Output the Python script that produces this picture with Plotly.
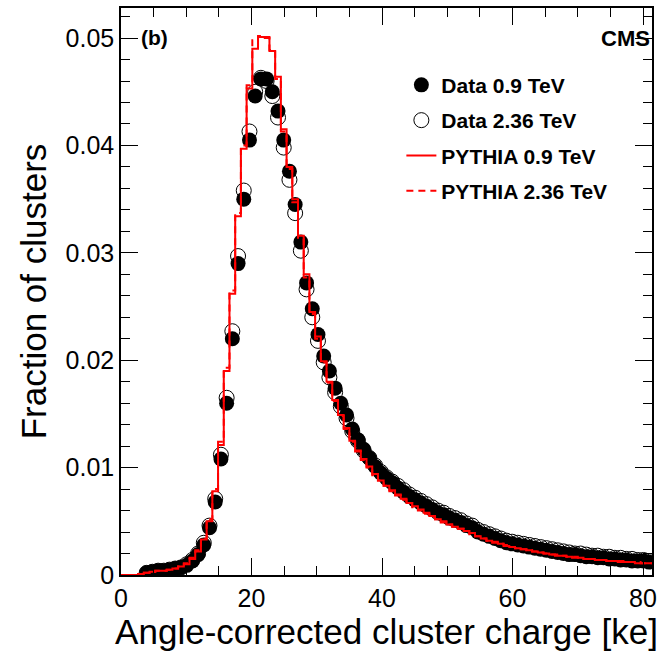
import numpy as np
import plotly.graph_objects as go

# ---- binning (bin width in ke) ----
BIN_WIDTH = 0.875
N_BINS = 93
DATA_FIRST_BIN = 4

# ---- Data 0.9 TeV (fraction of clusters per bin, bins 4..92) ----
data_09 = [
    0.0002, 0.0003, 0.0004, 0.0004, 0.0005, 0.0006, 0.0007, 0.0009, 0.0013, 0.0019,
    0.0028, 0.0044, 0.0068, 0.0108, 0.0160, 0.0220, 0.0290, 0.0350, 0.0405, 0.0446,
    0.0462, 0.0462, 0.0450, 0.0432, 0.0405, 0.0376, 0.0345, 0.0310, 0.0272, 0.0248,
    0.0224, 0.0204, 0.0190, 0.0174, 0.0160, 0.0149, 0.0136, 0.0126, 0.0117, 0.0109,
    0.0101, 0.0095, 0.0090, 0.0086, 0.0081, 0.0077, 0.0073, 0.0070, 0.0067, 0.0064,
    0.0061, 0.0058, 0.0056, 0.0053, 0.0051, 0.0049, 0.0046, 0.0044, 0.0040, 0.0038,
    0.0036, 0.0034, 0.0032, 0.0030, 0.0029, 0.0028, 0.0027, 0.0026, 0.0025, 0.0024,
    0.0023, 0.0022, 0.0021, 0.0020, 0.0019, 0.0019, 0.0018, 0.0017, 0.0017, 0.0016,
    0.0016, 0.0015, 0.0015, 0.0014, 0.0014, 0.0013, 0.0013, 0.0013, 0.0012,
]

# ---- Data 2.36 TeV (bins 4..92) ----
data_236 = [
    0.0002, 0.0003, 0.0004, 0.0004, 0.0005, 0.0006, 0.0007, 0.0010, 0.0014, 0.0020,
    0.0030, 0.0046, 0.0071, 0.0112, 0.0165, 0.0227, 0.0297, 0.0358, 0.0413, 0.0450,
    0.0463, 0.0460, 0.0446, 0.0426, 0.0398, 0.0368, 0.0337, 0.0302, 0.0266, 0.0240,
    0.0218, 0.0198, 0.0184, 0.0170, 0.0157, 0.0146, 0.0134, 0.0125, 0.0116, 0.0109,
    0.0102, 0.0096, 0.0091, 0.0087, 0.0083, 0.0079, 0.0075, 0.0072, 0.0069, 0.0066,
    0.0063, 0.0060, 0.0058, 0.0055, 0.0053, 0.0051, 0.0048, 0.0046, 0.0042, 0.0040,
    0.0038, 0.0036, 0.0034, 0.0032, 0.0031, 0.0030, 0.0029, 0.0028, 0.0027, 0.0026,
    0.0025, 0.0024, 0.0023, 0.0022, 0.0021, 0.0020, 0.0020, 0.0019, 0.0018, 0.0018,
    0.0017, 0.0017, 0.0016, 0.0016, 0.0015, 0.0015, 0.0014, 0.0014, 0.0013,
]

# ---- PYTHIA 0.9 TeV (all bins 0..92) ----
mc_09 = [
    0.0, 0.0, 0.0, 0.0001, 0.0002, 0.0003, 0.0004, 0.0004, 0.0005, 0.0006,
    0.0008, 0.0010, 0.0015, 0.0022, 0.0033, 0.0050, 0.0078, 0.0121, 0.0190, 0.0262,
    0.0334, 0.0397, 0.0453, 0.0490, 0.0501, 0.0501, 0.0488, 0.0464, 0.0415, 0.0380,
    0.0350, 0.0316, 0.0280, 0.0245, 0.0222, 0.0199, 0.0180, 0.0163, 0.0149, 0.0137,
    0.0125, 0.0116, 0.0108, 0.0101, 0.0094, 0.0088, 0.0083, 0.0079, 0.0075, 0.0071,
    0.0067, 0.0064, 0.0061, 0.0058, 0.0055, 0.0052, 0.0050, 0.0047, 0.0045, 0.0043,
    0.0041, 0.0039, 0.0036, 0.0034, 0.0032, 0.0030, 0.0029, 0.0027, 0.0026, 0.0025,
    0.0024, 0.0023, 0.0022, 0.0021, 0.0020, 0.0019, 0.0018, 0.0018, 0.0017, 0.0016,
    0.0016, 0.0015, 0.0015, 0.0014, 0.0014, 0.0013, 0.0013, 0.0012, 0.0012, 0.0012,
    0.0011, 0.0011, 0.0011,
]

# ---- PYTHIA 2.36 TeV (all bins 0..92) ----
mc_236 = [
    0.0, 0.0, 0.0, 0.0001, 0.0002, 0.0003, 0.0004, 0.0004, 0.0005, 0.0006,
    0.0008, 0.0011, 0.0016, 0.0023, 0.0034, 0.0052, 0.0080, 0.0124, 0.0193, 0.0265,
    0.0337, 0.0400, 0.0456, 0.0498, 0.0502, 0.0500, 0.0489, 0.0462, 0.0413, 0.0378,
    0.0347, 0.0313, 0.0277, 0.0243, 0.0220, 0.0198, 0.0179, 0.0162, 0.0148, 0.0136,
    0.0124, 0.0115, 0.0107, 0.0100, 0.0093, 0.0088, 0.0083, 0.0078, 0.0074, 0.0070,
    0.0067, 0.0063, 0.0060, 0.0057, 0.0054, 0.0052, 0.0049, 0.0047, 0.0045, 0.0043,
    0.0041, 0.0038, 0.0036, 0.0034, 0.0032, 0.0031, 0.0029, 0.0028, 0.0026, 0.0025,
    0.0024, 0.0023, 0.0022, 0.0021, 0.0020, 0.0019, 0.0019, 0.0018, 0.0017, 0.0017,
    0.0016, 0.0015, 0.0015, 0.0014, 0.0014, 0.0013, 0.0013, 0.0013, 0.0012, 0.0012,
    0.0012, 0.0011, 0.0011,
]

y_ticks = [0, 0.01, 0.02, 0.03, 0.04, 0.05]
y_ticktext = ["0", "0.01", "0.02", "0.03", "0.04", "0.05"]
x_ticks = [0, 20, 40, 60, 80]

edges = np.arange(N_BINS + 1) * BIN_WIDTH
centers = (edges[:-1] + edges[1:]) / 2
data_x = centers[DATA_FIRST_BIN:DATA_FIRST_BIN + len(data_09)]

FONT = "Liberation Sans, Arial, Helvetica, sans-serif"

def step_xy(vals):
    xs = list(edges[:len(vals)]) + [edges[len(vals)]]
    ys = list(vals) + [vals[-1]]
    return xs, ys

fig = go.Figure()

fig.add_trace(go.Scatter(
    x=data_x, y=data_236, mode="markers", name="Data 2.36 TeV", legendrank=2,
    legendgroup="b",
    marker=dict(symbol="circle-open", size=15, color="black", line=dict(width=1, color="black")),
))
fig.add_trace(go.Scatter(
    x=data_x, y=data_09, mode="markers", name="Data 0.9 TeV", legendrank=1,
    legendgroup="a",
    marker=dict(symbol="circle", size=15, color="black", line=dict(width=0)),
))
mx, my = step_xy(mc_09)
fig.add_trace(go.Scatter(
    x=mx, y=my, mode="lines", line_shape="hv", name="PYTHIA 0.9 TeV", legendrank=3,
    legendgroup="c",
    line=dict(color="#ff0000", width=2),
))
mx2, my2 = step_xy(mc_236)
fig.add_trace(go.Scatter(
    x=mx2, y=my2, mode="lines", line_shape="hv", name="PYTHIA 2.36 TeV", legendrank=4,
    legendgroup="d",
    line=dict(color="#ff0000", width=2, dash="7px,5px"),
))

axis_common = dict(
    showgrid=False, zeroline=False, showline=True, linecolor="black", linewidth=1.5,
    mirror="ticks", ticks="inside", tickcolor="black", tickwidth=1.2,
    tickfont=dict(family=FONT, size=25, color="black"),
)

fig.update_xaxes(
    range=[0, edges[-1]], tickvals=x_ticks, ticklen=17,
    minor=dict(dtick=5, ticklen=9, ticks="inside", tickcolor="black", tickwidth=1.2),
    title=dict(text="Angle-corrected cluster charge [ke]", font=dict(family=FONT, size=35, color="black"), standoff=6),
    **axis_common,
)
fig.update_yaxes(
    range=[0, 0.0528], tickvals=y_ticks, ticktext=y_ticktext, ticklen=17,
    minor=dict(dtick=0.002, ticklen=9, ticks="inside", tickcolor="black", tickwidth=1.2),
    title=dict(text="Fraction of clusters", font=dict(family=FONT, size=35, color="black"), standoff=8),
    **axis_common,
)

fig.add_annotation(x=0.033, y=0.972, xref="paper", yref="paper", text="<b>(b)</b>",
                   showarrow=False, xanchor="left", yanchor="top",
                   font=dict(family=FONT, size=21, color="black"))
fig.add_annotation(x=1.0, y=0.972, xref="paper", yref="paper", text="<b>CMS</b>",
                   showarrow=False, xanchor="right", yanchor="top",
                   font=dict(family=FONT, size=22, color="black"))

fig.update_layout(
    width=663, height=652,
    margin=dict(l=121, r=6, t=8, b=77),
    paper_bgcolor="white", plot_bgcolor="white",
    showlegend=True,
    legend=dict(
        x=0.528, y=0.90, xanchor="left", yanchor="top",
        bgcolor="rgba(0,0,0,0)", borderwidth=0,
        font=dict(family=FONT, size=21, color="black", weight="bold"),
        traceorder="grouped", tracegroupgap=5,
    ),
)

fig.write_html("out.html")
